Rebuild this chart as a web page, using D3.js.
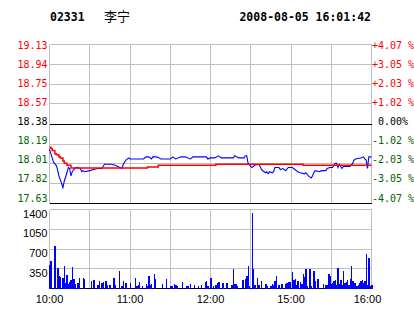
<!DOCTYPE html>
<html>
<head>
<meta charset="utf-8">
<script src="https://cdn.jsdelivr.net/npm/d3@7"></script>
<style>
  body { margin: 0; background: #fff; }
  svg { display: block; }
  .mono { font-family: "DejaVu Sans Mono", monospace; white-space: pre; }
  .sans { font-family: "Liberation Sans", Arial, sans-serif; }
</style>
</head>
<body>
<div id="chart"></div>
<script>
// header
const stockCode = "02331";
const stockName = "李宁";
const stamp = "2008-08-05 16:01:42";

// price axis (prev close in the middle)
const prevClose = 18.38;
const priceTicks = [19.13, 18.94, 18.75, 18.57, 18.38, 18.19, 18.01, 17.82, 17.63];
const pctLabels = ["+4.07 %", "+3.05 %", "+2.03 %", "+1.02 %", " 0.00%", "-1.02 %", "-2.03 %", "-3.05 %", "-4.07 %"];

// volume axis
const volTicks = [0, 350, 700, 1050, 1400];

// time axis, minutes after 10:00 (lunch break squeezed out)
const gridMins = [0, 30, 60, 90, 120, 150, 180, 210, 240];
const timeTicks = [0, 60, 120, 180, 240];
const timeLabels = ["10:00", "11:00", "12:00", "15:00", "16:00"];

// price line
const priceT = [0, 1, 2, 3, 5, 6, 7, 9, 10, 11, 13, 14, 15, 16, 17, 18, 19, 20, 23, 24, 25, 26, 30, 33, 36, 39,
  41, 46, 49, 51, 54, 55, 57, 59, 60, 70, 72, 74, 76, 77, 80, 83, 90, 92, 94, 98, 101, 105, 107, 117, 118,
  120, 123, 126, 128, 137, 138, 141, 145, 146, 147, 148, 150, 151, 153, 156, 157, 158, 160, 161, 162, 163,
  164, 166, 167, 168, 171, 172, 174, 176, 178, 181, 182, 185, 187, 190, 191, 193, 195, 196, 197, 198, 201,
  203, 206, 207, 209, 211, 212, 213, 214, 215, 216, 218, 219, 224, 226, 227, 228, 232, 234, 235, 236, 237,
  238, 240];
const priceV = [18.14, 18.10, 18.06, 18.02, 17.99, 17.95, 17.89, 17.82, 17.78, 17.84, 17.92, 17.97, 17.96,
  17.89, 17.93, 17.95, 17.96, 17.97, 17.96, 17.93, 17.94, 17.93, 17.94, 17.95, 17.96, 17.96,
  18.00, 18.00, 17.99, 17.98, 17.96, 18.00, 18.04, 18.06, 18.05, 18.05, 18.07, 18.07, 18.05, 18.07, 18.07,
  18.05, 18.05, 18.07, 18.05, 18.07, 18.07, 18.05, 18.07, 18.07, 18.05,
  18.06, 18.06, 18.08, 18.06, 18.06, 18.08, 18.06, 18.06, 18.08, 18.08, 18.01, 17.98, 17.97, 17.99, 18.00,
  17.98, 17.95, 17.93, 17.92, 17.93, 17.91, 17.93, 17.92, 17.93, 17.97, 17.97, 17.95, 17.96, 17.94, 17.97,
  17.97, 17.96, 17.93, 17.92, 17.91, 17.92, 17.89, 17.87, 17.89, 17.92, 17.94, 17.93,
  17.94, 17.94, 17.96, 17.97, 17.97, 17.99, 18.01, 18.01, 17.97, 18.00, 17.96, 17.98, 17.98, 18.01, 18.04,
  18.05, 18.06, 18.07, 18.05, 18.04, 17.96, 18.07, 18.07];

// average price line
const avgT = [0, 1, 2, 4, 5, 7, 8, 10, 11, 13, 16, 73, 81, 124, 189, 240];
const avgV = [18.16, 18.15, 18.13, 18.10, 18.09, 18.07, 18.06, 18.03, 18.01, 17.99, 17.965, 17.975, 17.99,
  18.00, 17.99, 17.99];

// volume bars
const volT = [0, 1, 4, 6, 7, 8, 10, 11, 12, 13, 14, 15, 16, 17, 18, 19, 21, 22, 25, 26, 31, 33, 36, 37, 39,
  40, 42, 43, 45, 48, 49, 52, 54, 55, 57, 60, 64, 65, 66, 67, 69, 72, 73, 74, 75, 76, 78, 79, 84, 87, 90,
  91, 93, 94, 95, 99, 102, 103, 105, 108, 111, 113, 116, 117, 118, 120, 122, 124, 125, 126, 129, 132, 136,
  137, 138, 139, 140, 144, 146, 147, 148, 149, 151, 152, 153, 155, 156, 158, 161, 162, 165, 166, 167, 168,
  169, 171, 173, 176, 177, 178, 179, 181, 182, 183, 184, 185, 187, 188, 189, 190, 191, 192, 194, 195, 197,
  198, 200, 204, 206, 207, 208, 209, 210, 211, 212, 213, 214, 215, 216, 217, 218, 219, 220, 221, 222, 223,
  224, 225, 226, 227, 228, 229, 230, 231, 232, 233, 234, 235, 236, 237, 238, 239, 240];
const volV = [413, 484, 750, 360, 219, 195, 189, 396, 89, 236, 77, 118, 148, 384, 165, 77, 89, 183, 183, 171,
  136, 148, 59, 130, 100, 118, 136, 59, 59, 183, 59, 313, 41, 130, 89, 89, 180, 53, 60, 112, 41, 71, 41,
  230, 59, 77, 254, 165, 77, 165, 41, 41, 77, 59, 47, 112, 53, 41, 77, 59, 41, 59, 118, 130, 41, 183, 41,
  59, 89, 112, 95, 95, 59, 343, 71, 71, 41, 148, 165, 219, 396, 41, 1341, 343, 59, 183, 59, 130, 77, 41,
  41, 77, 59, 130, 230, 59, 77, 77, 95, 112, 112, 289, 148, 165, 59, 130, 112, 77, 254, 201, 343, 41, 343,
  41, 307, 130, 165, 77, 59, 59, 254, 219, 77, 95, 130, 148, 59, 360, 77, 148, 59, 307, 95, 118, 148, 59,
  165, 396, 130, 95, 95, 41, 59, 95, 130, 148, 95, 130, 608, 59, 532, 41, 59];

const W = 414, H = 314;
const svg = d3.select("#chart").append("svg")
  .attr("width", W).attr("height", H);

// scales
const x = d3.scaleLinear().domain([0, 240]).range([49.5, 371.5]);
const y = d3.scaleLinear().domain([17.63, 19.13]).range([203.5, 44.5]);
const yLab = d3.scaleLinear().domain([17.63, 19.13]).range([201.5, 48.5]);
const yv = d3.scaleLinear().domain([0, 1400]).range([288.5, 209.5]);

const grey = "#c0c0c0", red = "#ff0000", green = "#006400", blue = "#0000ff";
const tone = v => v > prevClose ? red : v < prevClose ? green : "#000";

// header text
svg.append("text").attr("class", "mono").attr("x", 50).attr("y", 21)
  .attr("font-size", 11.5).attr("font-weight", "bold").text(stockCode);
svg.append("text").attr("x", 104).attr("y", 21)
  .attr("font-family", "'Noto Sans CJK SC', sans-serif").attr("font-size", 13).text(stockName);
svg.append("text").attr("class", "mono").attr("x", 371).attr("y", 21).attr("text-anchor", "end")
  .attr("font-size", 11.5).attr("font-weight", "bold").text(stamp);

// main panel grid
const grid = svg.append("g").attr("shape-rendering", "crispEdges");
grid.selectAll(".vg").data(gridMins).join("line")
  .attr("x1", d => x(d)).attr("x2", d => x(d))
  .attr("y1", y(19.13)).attr("y2", y(17.63)).attr("stroke", grey);
grid.selectAll(".hg").data(priceTicks).join("line")
  .attr("x1", x(0)).attr("x2", x(240))
  .attr("y1", d => y(d)).attr("y2", d => y(d))
  .attr("stroke", d => (d === prevClose || d === 17.63) ? "#000" : grey);

// volume panel grid
const vgrid = svg.append("g").attr("shape-rendering", "crispEdges");
vgrid.selectAll("line.v").data(gridMins).join("line")
  .attr("x1", d => x(d)).attr("x2", d => x(d))
  .attr("y1", yv(1400)).attr("y2", yv(0)).attr("stroke", grey);
vgrid.selectAll("line.h").data(volTicks).join("line")
  .attr("x1", x(0)).attr("x2", x(240))
  .attr("y1", d => yv(d)).attr("y2", d => yv(d))
  .attr("stroke", d => d === 0 ? "#000" : grey);

// price labels
svg.append("g").selectAll("text").data(priceTicks).join("text")
  .attr("class", "mono").attr("font-size", 10)
  .attr("x", 47.5).attr("y", d => yLab(d)).attr("text-anchor", "end")
  .attr("fill", d => tone(d)).text(d => d.toFixed(2));
svg.append("g").selectAll("text").data(priceTicks).join("text")
  .attr("class", "mono").attr("font-size", 10)
  .attr("x", 372).attr("y", d => yLab(d))
  .attr("fill", d => tone(d)).text((d, i) => pctLabels[i]);

// volume labels
svg.append("g").selectAll("text").data(volTicks.filter(d => d > 0)).join("text")
  .attr("class", "sans").attr("font-size", 11)
  .attr("x", 47.5).attr("y", d => yv(d) + 8).attr("text-anchor", "end").text(d => d);

// time labels
svg.append("g").selectAll("text").data(timeTicks).join("text")
  .attr("class", "sans").attr("font-size", 11)
  .attr("x", (d, i) => x(d) - (i === timeTicks.length - 1 ? 4 : 0)).attr("y", 303)
  .attr("text-anchor", "middle").text((d, i) => timeLabels[i]);

// price and average lines
const pts = priceT.map((t, i) => [t, priceV[i]]);
const avg = avgT.map((t, i) => [t, avgV[i]]);
svg.append("path").datum(pts)
  .attr("fill", "none").attr("stroke", blue).attr("stroke-width", 1.1)
  .attr("d", d3.line().x(d => x(d[0])).y(d => y(d[1])));
svg.append("path").datum(avg)
  .attr("fill", "none").attr("stroke", red).attr("stroke-width", 1.5)
  .attr("d", d3.line().curve(d3.curveStepAfter).x(d => x(d[0])).y(d => y(d[1])));

// volume bars
svg.append("g").attr("shape-rendering", "crispEdges")
  .selectAll("rect").data(volT.map((t, i) => [t, volV[i]])).join("rect")
  .attr("x", d => x(d[0]) - 0.5).attr("width", 1.5)
  .attr("y", d => yv(d[1])).attr("height", d => yv(0) - yv(d[1]))
  .attr("fill", blue);
</script>
</body>
</html>
